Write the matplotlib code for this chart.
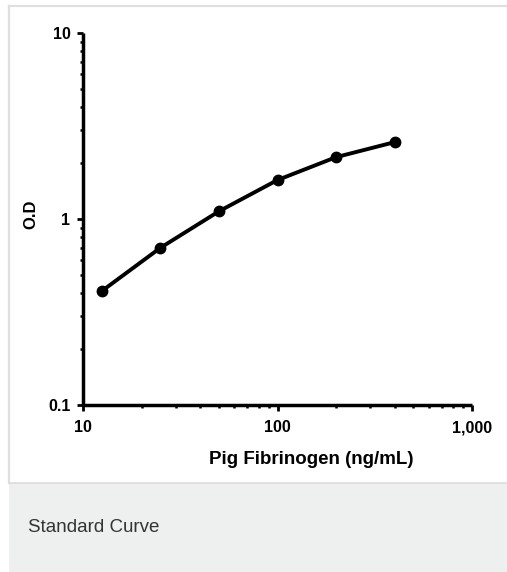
import matplotlib
matplotlib.use("Agg")
import matplotlib.pyplot as plt
from matplotlib.patches import Rectangle
from matplotlib.lines import Line2D
from matplotlib.ticker import FixedLocator, LogLocator, NullFormatter

# Data
concentration = [12.5, 25, 50, 100, 200, 400]
od_values = [0.41, 0.70, 1.10, 1.62, 2.15, 2.59]
x_ticks = [10, 100, 1000]
x_tick_labels = ["10", "100", "1,000"]
y_ticks = [0.1, 1, 10]
y_tick_labels = ["0.1", "1", "10"]
x_label = "Pig Fibrinogen (ng/mL)"
y_label = "O.D"
caption = "Standard Curve"

W, H = 507, 572
fig = plt.figure(figsize=(W / 100, H / 100), dpi=100)
fig.patch.set_facecolor("white")

def fx(px):
    return px / W

def fy(py):
    return 1 - py / H

# caption box
fig.patches.append(Rectangle((fx(9), 0), 1 - fx(9), fy(483), transform=fig.transFigure,
                             facecolor="#eef0ef", edgecolor="none", zorder=0))
# borders
fig.lines.append(Line2D([fx(9), 1], [fy(6), fy(6)], transform=fig.transFigure, color="#dfdfdf", lw=1.6))
fig.lines.append(Line2D([fx(9), fx(9)], [fy(483), fy(6)], transform=fig.transFigure, color="#dfdfdf", lw=1.6))
fig.lines.append(Line2D([fx(9), 1], [fy(483), fy(483)], transform=fig.transFigure, color="#dcdcdc", lw=1.2))

bold_font = ["Liberation Sans", "DejaVu Sans"]

ax = fig.add_axes([fx(83), fy(405), fx(472) - fx(83), (405 - 33) / H])
ax.set_facecolor("none")
ax.plot(concentration, od_values, color="black", lw=2.8, marker="o", ms=7.5, clip_on=False, zorder=3)
ax.set_xscale("log")
ax.set_yscale("log")
ax.set_xlim(10, 1000)
ax.set_ylim(0.1, 10)

for s in ["top", "right"]:
    ax.spines[s].set_visible(False)
for s in ["left", "bottom"]:
    ax.spines[s].set_linewidth(2.5)
    ax.spines[s].set_capstyle("butt")

ax.xaxis.set_major_locator(FixedLocator(x_ticks))
ax.set_xticklabels(x_tick_labels)
ax.yaxis.set_major_locator(FixedLocator(y_ticks))
ax.set_yticklabels(y_tick_labels)
ax.xaxis.set_minor_locator(LogLocator(base=10, subs=range(2, 10)))
ax.yaxis.set_minor_locator(LogLocator(base=10, subs=range(2, 10)))
ax.xaxis.set_minor_formatter(NullFormatter())
ax.yaxis.set_minor_formatter(NullFormatter())

ax.tick_params(axis="both", which="major", direction="out", length=4, width=2.0, color="black")
ax.tick_params(axis="both", which="minor", direction="out", length=2.5, width=1.8, color="black")
ax.tick_params(axis="x", which="major", pad=7)
ax.tick_params(axis="y", which="major", pad=5)

for lab in ax.get_xticklabels() + ax.get_yticklabels():
    lab.set_fontfamily(bold_font)
    lab.set_fontweight("bold")
    lab.set_fontsize(11.5)

fig.text(fx(311), fy(460), x_label, ha="center", va="center", fontsize=13.5,
         fontweight="bold", family=bold_font)
fig.text(fx(31), fy(214), y_label, ha="center", va="center", rotation=90, fontsize=12,
         fontweight="bold", family=bold_font)
fig.text(fx(28), fy(527), caption, ha="left", va="center", fontsize=13.5,
         color="#333333", family=bold_font)

fig.savefig("out.png", dpi=100, facecolor="white")
